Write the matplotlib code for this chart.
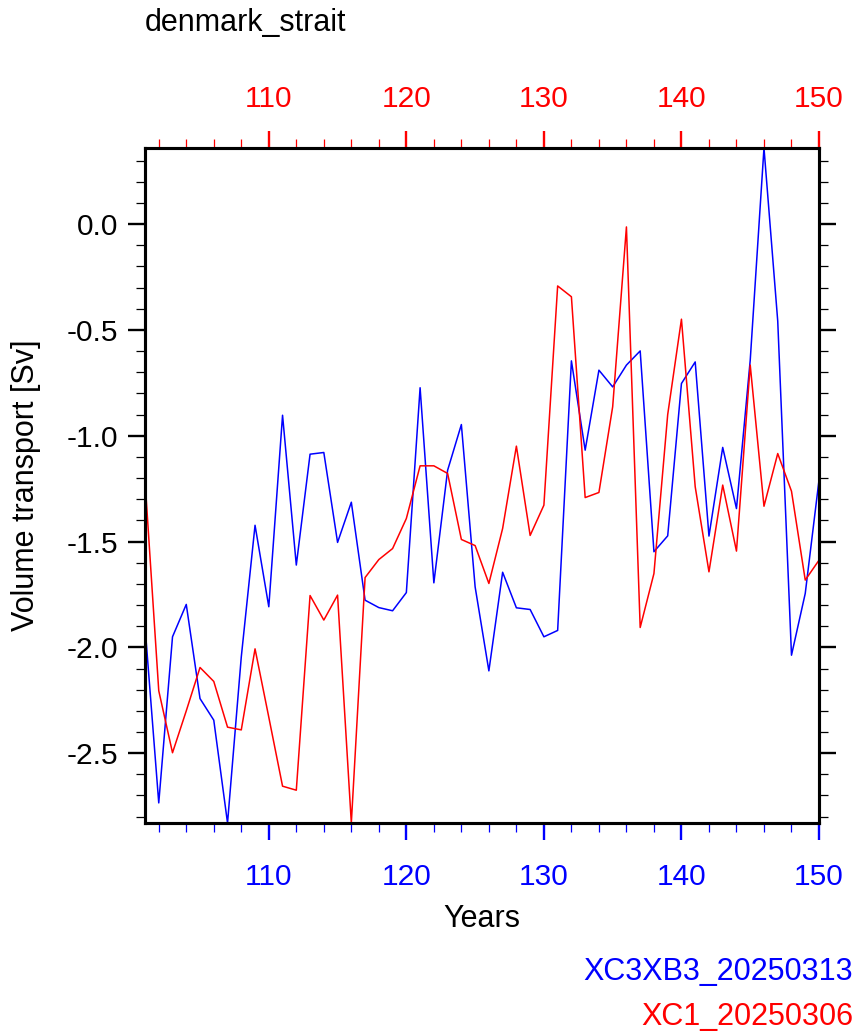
import numpy as np
import matplotlib
matplotlib.use("Agg")
import matplotlib.pyplot as plt
from matplotlib.ticker import MultipleLocator, FormatStrFormatter

plt.rcParams['font.family'] = ['Liberation Sans', 'DejaVu Sans']
plt.rcParams['axes.unicode_minus'] = False

# years and volume transport [Sv] for the two runs
years = np.arange(101, 151)

xc3xb3 = [-1.90, -2.735, -1.95, -1.797, -2.242, -2.344, -2.83, -2.045, -1.423, -1.808,
          -0.903, -1.611, -1.087, -1.079, -1.504, -1.314, -1.777, -1.812, -1.827, -1.741,
          -0.773, -1.695, -1.163, -0.947, -1.714, -2.111, -1.645, -1.813, -1.821, -1.950,
          -1.920, -0.646, -1.068, -0.690, -0.769, -0.666, -0.599, -1.548, -1.473, -0.753,
          -0.651, -1.474, -1.055, -1.344, -0.643, 0.36, -0.458, -2.037, -1.745, -1.21]

xc1 = [-1.21, -2.205, -2.498, -2.30, -2.095, -2.161, -2.377, -2.39, -2.007, -2.33,
       -2.656, -2.675, -1.755, -1.871, -1.753, -2.83, -1.67, -1.585, -1.533, -1.391,
       -1.142, -1.142, -1.178, -1.49, -1.519, -1.698, -1.438, -1.049, -1.471, -1.328,
       -0.292, -0.343, -1.292, -1.268, -0.863, -0.013, -1.906, -1.651, -0.90, -0.449,
       -1.241, -1.643, -1.233, -1.545, -0.666, -1.333, -1.084, -1.262, -1.682, -1.588]

labels = ["XC3XB3_20250313", "XC1_20250306"]
colors = ["blue", "red"]

W, H = 858, 1035
fig = plt.figure(figsize=(W / 100, H / 100), dpi=100)
ax = fig.add_axes([145 / W, 1 - 823 / H, (819 - 145) / W, (823 - 148) / H])

ax.plot(years, xc3xb3, color=colors[0], lw=1.1)
ax.plot(years, xc1, color=colors[1], lw=1.1)

ymin = min(min(xc3xb3), min(xc1))
ymax = max(max(xc3xb3), max(xc1))
ax.set_xlim(years[0], years[-1])
ax.set_ylim(ymin, ymax)

fs = 21.5
for s in ax.spines.values():
    s.set_linewidth(2.2)

ax.xaxis.set_major_locator(MultipleLocator(10))
ax.xaxis.set_minor_locator(MultipleLocator(2))
ax.yaxis.set_major_locator(MultipleLocator(0.5))
ax.yaxis.set_minor_locator(MultipleLocator(0.1))
ax.yaxis.set_major_formatter(FormatStrFormatter('%.1f'))

ax.tick_params(axis='x', which='both', direction='out', colors='blue', labelsize=fs, pad=16)
ax.tick_params(axis='y', which='both', direction='out', left=True, right=True,
               colors='black', labelsize=fs, pad=7)
ax.tick_params(which='major', length=12.5, width=1.7)
ax.tick_params(which='minor', length=6.5, width=0.9)

# top axis in red, same years
top = ax.twiny()
top.set_xlim(ax.get_xlim())
top.xaxis.set_major_locator(MultipleLocator(10))
top.xaxis.set_minor_locator(MultipleLocator(2))
top.tick_params(axis='x', which='both', direction='out', colors='red', labelsize=fs, pad=12.5)
top.tick_params(which='major', length=12.5, width=1.7)
top.tick_params(which='minor', length=6.5, width=0.9)
for s in top.spines.values():
    s.set_linewidth(2.2)

ax.set_xlabel("Years", fontsize=22, labelpad=10)
ax.set_ylabel("Volume transport [Sv]", fontsize=22, labelpad=18)

fig.text(145 / W, 1 - 31 / H, "denmark_strait", fontsize=22, ha='left', va='baseline')
fig.text(853 / W, 1 - 980 / H, labels[0], color=colors[0], fontsize=22, ha='right', va='baseline')
fig.text(853 / W, 1 - 1025 / H, labels[1], color=colors[1], fontsize=22, ha='right', va='baseline')

fig.savefig("out.png", dpi=100)
